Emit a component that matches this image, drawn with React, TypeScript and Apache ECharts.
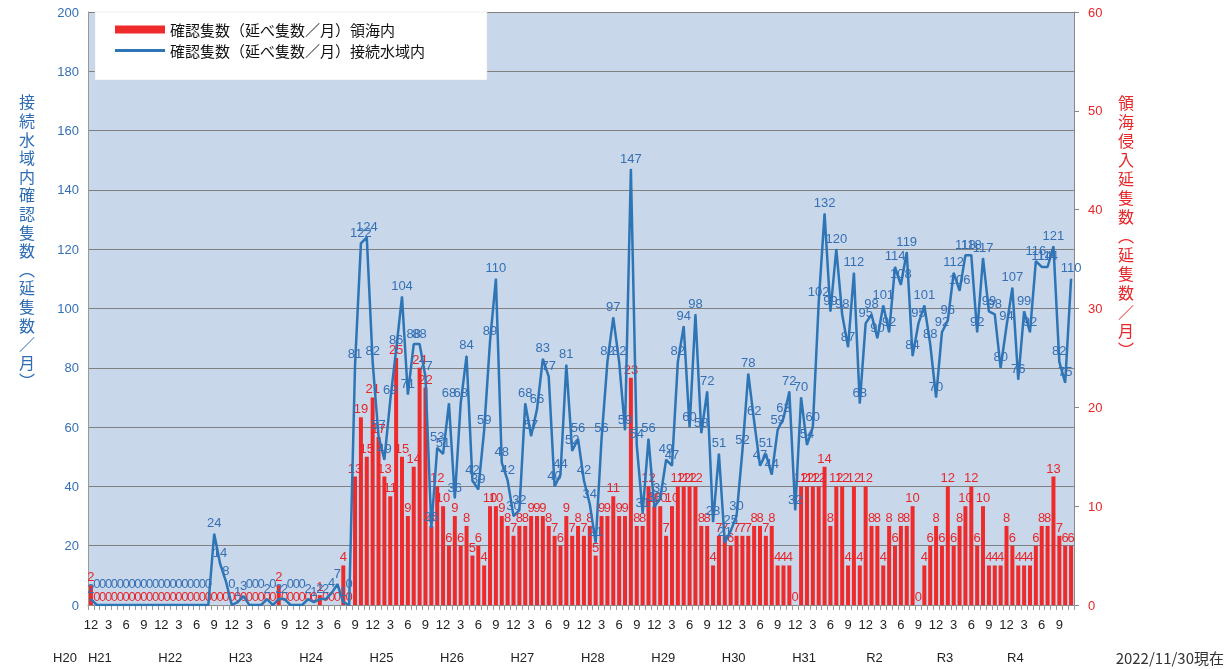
import React, { useEffect, useRef } from "react";
import * as echarts from "echarts";

// ---- data (monthly, Dec 2008 .. Nov 2022) ----
const START_YEAR = 2008;
const START_MONTH = 12;
const MONTH_COUNT = 168;

// 接続水域内 確認隻数 (left axis)
const CONTIGUOUS: number[] = [
  2,
  0, 0, 0, 0, 0, 0, 0, 0, 0, 0, 0, 0, 0, 0, 0, 0, 0, 0, 0, 0,
  24, 14, 8, 0,
  1, 3, 0, 0, 0, 2, 0, 2, 2, 0, 0, 0,
  2, 1, 2, 2, 4, 7, 1, 0,
  81, 122, 124, 82,
  57, 49, 69, 86, 104, 71, 88, 88, 77, 26, 53, 51,
  68, 36, 68, 84, 42, 39, 59, 89, 110, 48, 42, 30,
  32, 68, 57, 66, 83, 77, 40, 44, 81, 52, 56, 42,
  34, 21, 56, 82, 97, 82, 59, 147, 54, 31, 56, 33,
  36, 49, 47, 82, 94, 60, 98, 58, 72, 28, 51, 21,
  25, 30, 52, 78, 62, 47, 51, 44, 59, 63, 72, 32,
  70, 54, 60, 102, 132, 99, 120, 98, 87, 112, 68, 95,
  98, 90, 101, 92, 114, 108, 119, 84, 95, 101, 88, 70,
  92, 96, 112, 106, 118, 118, 92, 117, 99, 98, 80, 94,
  107, 76, 99, 92, 116, 114, 114, 121, 82, 75, 110,
];

// 領海内 確認隻数 (right axis)
const TERRITORIAL: number[] = [
  2,
  0, 0, 0, 0, 0, 0, 0, 0, 0, 0, 0, 0, 0, 0, 0, 0, 0, 0, 0, 0, 0, 0, 0, 0, 0, 0, 0, 0, 0, 0, 0,
  2,
  0, 0, 0, 0, 0, 0,
  1,
  0, 0, 0,
  4,
  0,
  13, 19, 15, 21,
  17, 13, 11, 25, 15, 9, 14, 24, 22, 8, 12, 10,
  6, 9, 6, 8, 5, 6, 4, 10, 10, 9, 8, 7,
  8, 8, 9, 9, 9, 8, 7, 6, 9, 7, 8, 7,
  8, 5, 9, 9, 11, 9, 9, 23, 8, 8, 12, 10,
  10, 7, 10, 12, 12, 12, 12, 8, 8, 4, 7, 7,
  6, 7, 7, 7, 8, 8, 7, 8, 4, 4, 4, 0,
  12, 12, 12, 12, 14, 8, 12, 12, 4, 12, 4, 12,
  8, 8, 4, 8, 6, 8, 8, 10, 0, 4, 6, 8,
  6, 12, 6, 8, 10, 12, 6, 10, 4, 4, 4, 8,
  6, 4, 4, 4, 6, 8, 8, 13, 7, 6, 6,
];

const ERA_LABELS = ["H20", "H21", "H22", "H23", "H24", "H25", "H26", "H27", "H28", "H29", "H30", "H31", "R2", "R3", "R4"];

const LEFT_MAX = 200;
const LEFT_STEP = 20;
const RIGHT_MAX = 60;
const RIGHT_STEP = 10;

const NAME_TERR = "確認隻数（延べ隻数／月）領海内";
const NAME_CONT = "確認隻数（延べ隻数／月）接続水域内";
const LEFT_TITLE = "接続水域内確認隻数︵延隻数／月︶";
const RIGHT_TITLE = "領海侵入延隻数︵延隻数／月︶";
const AS_OF = "2022/11/30現在";

// categories
const CATEGORIES: string[] = [];
const MONTHS: number[] = [];
for (let k = 0; k < MONTH_COUNT; k++) {
  const t = START_YEAR * 12 + (START_MONTH - 1) + k;
  const y = Math.floor(t / 12);
  const m = (t % 12) + 1;
  CATEGORIES.push(`${y}-${m}`);
  MONTHS.push(m);
}

const BLUE = "#2e75b6";
const BLUE_TEXT = "#3570b5";
const RED = "#ee2a2a";
const RED_TEXT = "#e8262a";
const NUM_FONT = "'Liberation Sans', Arial, sans-serif";
const JP_FONT = "'Noto Sans CJK JP', sans-serif";

export default function App() {
  const ref = useRef<HTMLDivElement>(null);

  useEffect(() => {
    if (!ref.current) return;
    const chart = echarts.init(ref.current, undefined, { renderer: "svg" });

    const lineData = CONTIGUOUS.map((v) =>
      v === 0 ? { value: v, label: { distance: 15 } } : { value: v }
    );

    chart.setOption({
      animation: false,
      grid: {
        left: 88,
        right: 154,
        top: 12,
        bottom: 64,
        show: true,
        backgroundColor: "#c8d7ea",
        borderWidth: 0,
      },
      legend: {
        show: true,
        orient: "vertical",
        left: 110,
        top: 17,
        z: 10,
        itemWidth: 50,
        itemHeight: 8,
        itemGap: 6,
        selectedMode: false,
        textStyle: { fontSize: 15, color: "#111", fontFamily: JP_FONT },
        data: [
          { name: NAME_TERR, icon: "rect" },
          { name: NAME_CONT, icon: "path://M0,0H50V3H0Z" },
        ],
      },
      xAxis: {
        type: "category",
        data: CATEGORIES,
        boundaryGap: true,
        axisLine: { show: true, lineStyle: { color: "#888", width: 1 } },
        axisTick: { show: true, interval: 0, length: 5, lineStyle: { color: "#999" } },
        axisLabel: {
          interval: (idx: number) => MONTHS[idx] % 3 === 0,
          formatter: (_v: string, idx: number) => String(MONTHS[idx]),
          color: "#222",
          fontSize: 13,
          fontFamily: NUM_FONT,
          margin: 13,
        },
        splitLine: { show: false },
      },
      yAxis: [
        {
          type: "value",
          min: 0,
          max: LEFT_MAX,
          interval: LEFT_STEP,
          position: "left",
          axisLine: { show: true, lineStyle: { color: "#999" } },
          axisTick: { show: false },
          axisLabel: { color: BLUE_TEXT, fontSize: 13, fontFamily: NUM_FONT, margin: 9 },
          splitLine: { show: true, lineStyle: { color: "#808080", width: 1 } },
        },
        {
          type: "value",
          min: 0,
          max: RIGHT_MAX,
          interval: RIGHT_STEP,
          position: "right",
          axisLine: { show: true, lineStyle: { color: "#888" } },
          axisTick: { show: true, length: 5, lineStyle: { color: "#888" } },
          axisLabel: { color: RED_TEXT, fontSize: 13, fontFamily: NUM_FONT, margin: 14 },
          splitLine: { show: false },
        },
      ],
      series: [
        {
          name: NAME_TERR,
          type: "bar",
          yAxisIndex: 1,
          data: TERRITORIAL,
          barWidth: "68%",
          itemStyle: { color: RED },
          label: {
            show: true,
            position: "top",
            distance: 2,
            color: RED_TEXT,
            fontSize: 13,
            fontFamily: NUM_FONT,
          },
          z: 2,
        },
        {
          name: NAME_CONT,
          type: "line",
          yAxisIndex: 0,
          data: lineData,
          symbol: "circle",
          symbolSize: 1,
          showSymbol: true,
          showAllSymbol: true,
          itemStyle: { color: BLUE },
          lineStyle: { color: BLUE, width: 2.5 },
          label: {
            show: true,
            position: "top",
            distance: 4,
            color: BLUE_TEXT,
            fontSize: 13,
            fontFamily: NUM_FONT,
          },
          z: 3,
        },
      ],
    });

    // positions of era labels from the category axis
    const elements: any[] = [];
    ERA_LABELS.forEach((era, k) => {
      const idx = k === 0 ? 0 : k * 12 - 11;
      const px = chart.convertToPixel({ xAxisIndex: 0 }, CATEGORIES[idx]) as number;
      elements.push({
        type: "text",
        x: k === 0 ? px - 26 : px + 3,
        y: 657,
        style: {
          text: era,
          fill: "#222",
          font: `13px ${NUM_FONT}`,
          textAlign: "center",
          textVerticalAlign: "middle",
        },
      });
    });
    elements.push({
      type: "text",
      x: 1224,
      y: 657,
      style: {
        text: AS_OF,
        fill: "#333",
        font: `15px ${JP_FONT}`,
        textAlign: "right",
        textVerticalAlign: "middle",
      },
    });
    elements.push({
      type: "text",
      x: 27,
      y: 92,
      style: {
        text: LEFT_TITLE.split("").join("\n"),
        fill: "#2e6db4",
        font: `16px ${JP_FONT}`,
        lineHeight: 18.6,
        textAlign: "center",
        textVerticalAlign: "top",
      },
    });
    elements.push({
      type: "text",
      x: 1126,
      y: 92,
      style: {
        text: RIGHT_TITLE.split("").join("\n"),
        fill: "#e8262a",
        font: `16px ${JP_FONT}`,
        lineHeight: 19,
        textAlign: "center",
        textVerticalAlign: "top",
      },
    });
    elements.push({
      type: "rect",
      z: 5,
      shape: { x: 95, y: 12, width: 392, height: 68 },
      style: { fill: "#ffffff", stroke: "#dddddd", lineWidth: 0.5 },
    });

    chart.setOption({ graphic: { elements } });

    return () => chart.dispose();
  }, []);

  return (
    <div
      ref={ref}
      style={{ position: "fixed", left: 0, top: 0, width: 1228, height: 669 }}
    />
  );
}
